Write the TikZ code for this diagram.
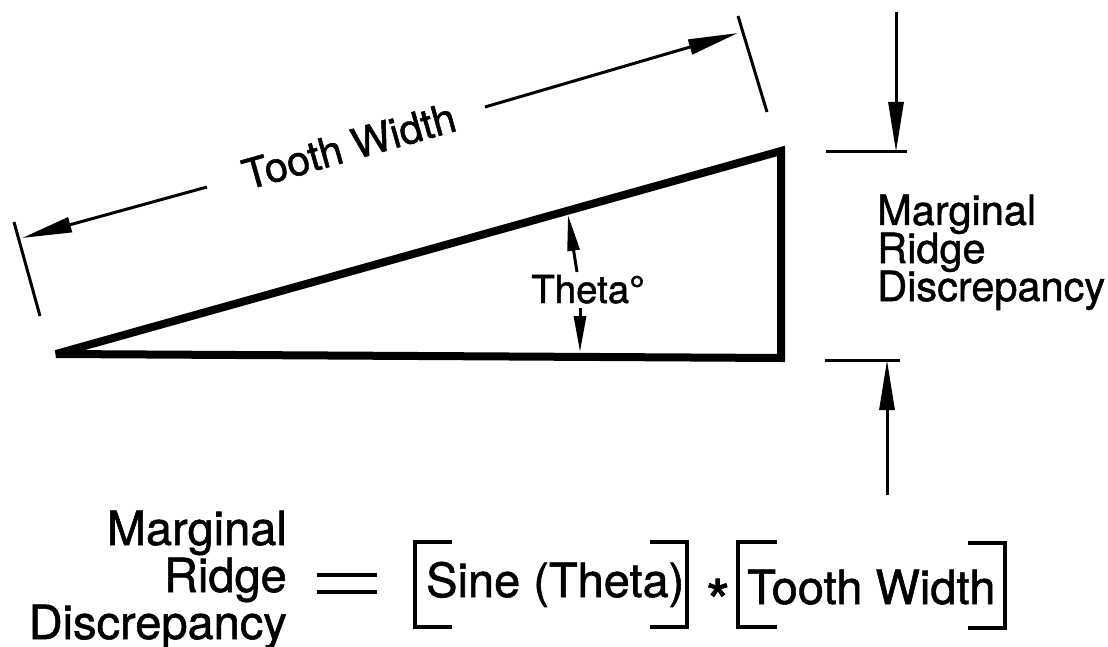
\documentclass[tikz,border=0pt]{standalone}
\usepackage{fontspec}
\setmainfont{TeX Gyre Heros}
\newfontfamily\hv{TeX Gyre Heros}[FakeBold=1.2]
\usetikzlibrary{arrows.meta}
\tikzset{
  x=1pt,y=-1pt,
  tri/.style={line width=8pt,line join=miter,miter limit=2},
  ext/.style={line width=3pt},
  dimarrow/.style={line width=3pt,-{Triangle[length=50pt,width=15pt]}},
  angarrow/.style={line width=3pt,-{Triangle[length=36pt,width=12pt]}},
  brk/.style={line width=4pt},
  lbl/.style={inner sep=0pt,font=\hv\fontsize{41.5}{41.5}\selectfont},
  eq/.style={inner sep=0pt,font=\hv\fontsize{47}{47}\selectfont},
}
\begin{document}
\begin{tikzpicture}
\useasboundingbox[fill=white] (0,0) rectangle (1108,647);
% triangle
\coordinate (A) at (56,354);
\coordinate (B) at (781,151);
\coordinate (C) at (781,358);
\draw[tri] (A) -- (B) -- (C) -- cycle;
% tooth width dimension
\coordinate (el1) at (14,222);
\coordinate (el2) at (40,316);
\coordinate (er1) at (738,16);
\coordinate (er2) at (767,112);
\draw[ext] (el1) -- (el2);
\draw[ext] (er1) -- (er2);
\coordinate (tl) at (22,238);
\coordinate (tr) at (738,33);
\coordinate (gl) at (207,187);
\coordinate (gr) at (485,107);
\draw[dimarrow] (gl) -- (tl);
\draw[dimarrow] (gr) -- (tr);
\node[lbl,rotate=15.8] (tw) at (349,146) {Tooth Width};
% theta
\node[lbl,anchor=base west,font=\hv\fontsize{38.5}{38.5}\selectfont] (theta) at (531,303) {Theta°};
\coordinate (ta1) at (577,272);
\coordinate (ta2) at (568,215);
\coordinate (tb1) at (580,308);
\coordinate (tb2) at (580,352);
\draw[angarrow] (ta1) -- (ta2);
\draw[angarrow] (tb1) -- (tb2);
% right dimension
\coordinate (u1) at (826,152);
\coordinate (u2) at (907,152);
\coordinate (d1) at (825,360);
\coordinate (d2) at (900,360);
\draw[ext] (u1) -- (u2);
\draw[ext] (d1) -- (d2);
\coordinate (ua) at (896,12);
\coordinate (ub) at (896,152);
\coordinate (da) at (887,495);
\coordinate (db) at (887,360);
\draw[dimarrow] (ua) -- (ub);
\draw[dimarrow] (da) -- (db);
\node[lbl,anchor=base west] (r1) at (877,225) {Marginal};
\node[lbl,anchor=base west] (r2) at (877,263) {Ridge};
\node[lbl,anchor=base west] (r3) at (877,301) {Discrepancy};
% equation
\node[eq,anchor=base east] (l1) at (287,545) {Marginal};
\node[eq,anchor=base east] (l2) at (287,592) {Ridge};
\node[eq,anchor=base east] (l3) at (287,639) {Discrepancy};
\coordinate (e1a) at (317,575); \coordinate (e1b) at (377,575);
\coordinate (e2a) at (317,592); \coordinate (e2b) at (377,592);
\draw[line width=3.5pt] (e1a) -- (e1b);
\draw[line width=3.5pt] (e2a) -- (e2b);
\draw[brk] (452,542) -- (415,542) -- (415,627) -- (452,627);
\node[eq,anchor=base west] (sine) at (426,597) {Sine (Theta)};
\draw[brk] (650,542) -- (687,542) -- (687,627) -- (650,627);
\node[eq,anchor=base,font=\hv\fontsize{62}{62}\selectfont] (star) at (718,624) {*};
\draw[brk] (777,542) -- (738,542) -- (738,627) -- (777,627);
\node[eq,anchor=base west] (tw2) at (747,604) {Tooth Width};
\draw[brk] (968,543) -- (1005,543) -- (1005,628) -- (968,628);
\end{tikzpicture}
\end{document}
